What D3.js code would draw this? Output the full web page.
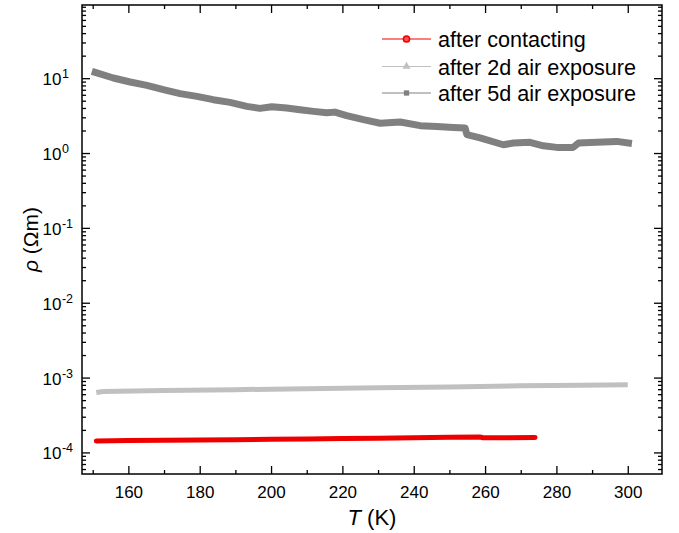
<!DOCTYPE html>
<html>
<head>
<meta charset="utf-8">
<script src="https://cdnjs.cloudflare.com/ajax/libs/d3/7.8.5/d3.min.js"></script>
<style>
    body { margin: 0; background: #fff; }
    text { font-family: Arial, "Liberation Sans", sans-serif; fill: #000; }
</style>
</head>
<body>
<div id="chart"></div>
<script>
// values
var seriesNames = ["after contacting", "after 2d air exposure", "after 5d air exposure"];

var tContact = [151, 160, 170, 180, 190, 200, 210, 220, 230, 240, 250, 258.5, 259.5, 265, 274];
var rhoContact = [1.42e-4, 1.44e-4, 1.45e-4, 1.47e-4, 1.48e-4, 1.50e-4, 1.51e-4, 1.53e-4, 1.55e-4, 1.57e-4, 1.59e-4, 1.61e-4, 1.57e-4, 1.57e-4, 1.58e-4];

var t2d = [151, 153, 170, 190, 210, 230, 250, 270, 287, 300];
var rho2d = [6.3e-4, 6.5e-4, 6.7e-4, 6.9e-4, 7.1e-4, 7.3e-4, 7.5e-4, 7.75e-4, 7.9e-4, 8.0e-4];

var t5d = [150.7, 155.8, 160.5, 165.2, 169.8, 174.5, 179.2, 183.8, 188.5, 193.2, 196.9, 200.2, 204.4, 208.1,
    211.9, 215.6, 217.9, 221.2, 225.9, 230.6, 236.2, 241.8, 246.5, 251.1, 254.4, 254.9, 258.6, 265.1,
    267.9, 272.6, 276.3, 280.1, 284.7, 286.2, 291.3, 296.9, 300.2];
var rho5d = [11.96, 10.06, 8.90, 8.01, 7.02, 6.21, 5.71, 5.16, 4.75, 4.20, 3.95, 4.15, 4.00, 3.79,
    3.60, 3.45, 3.52, 3.16, 2.79, 2.50, 2.60, 2.32, 2.27, 2.20, 2.16, 1.76, 1.59, 1.29,
    1.36, 1.39, 1.25, 1.19, 1.19, 1.36, 1.39, 1.43, 1.36];

var xMajor = [160, 180, 200, 220, 240, 260, 280, 300];
var xMinor = [150, 170, 190, 210, 230, 250, 270, 290];
var yMajor = [1e-4, 1e-3, 1e-2, 1e-1, 1e0, 1e1];

var colors = ["#ee0000", "#c0c0c0", "#808080"];

var width = 679, height = 533;
var pLeft = 82, pRight = 662, pTop = 5, pBottom = 474;

var x = d3.scaleLinear().domain([147, 309.6]).range([pLeft, pRight]);
var y = d3.scaleLog().domain([5.15e-5, 95]).range([pBottom, pTop]);

// minor log ticks 2..9 in each decade
var yMinor = [];
for (var k = -5; k <= 1; k++) {
    for (var m = 2; m <= 9; m++) {
        var v = m * Math.pow(10, k);
        if (v > y.domain()[0] && v < y.domain()[1]) yMinor.push(v);
    }
}

var svg = d3.select("#chart")
    .append("svg")
    .attr("width", width)
    .attr("height", height);

svg.append("defs").append("clipPath")
    .attr("id", "clip")
    .append("rect")
    .attr("x", pLeft).attr("y", pTop)
    .attr("width", pRight - pLeft).attr("height", pBottom - pTop);

function styleAxis(g) {
    g.select(".domain").remove();
    g.selectAll("line").attr("stroke", "#000").attr("stroke-width", 1.3);
    g.selectAll("text").style("font-size", "17px").attr("font-family", null);
}

// bottom
svg.append("g")
    .attr("transform", "translate(0," + pBottom + ")")
    .call(d3.axisBottom(x).tickValues(xMajor).tickSize(-8).tickPadding(12).tickFormat(d3.format("d")))
    .call(styleAxis);
svg.append("g")
    .attr("transform", "translate(0," + pBottom + ")")
    .call(d3.axisBottom(x).tickValues(xMinor).tickSize(-4).tickFormat(""))
    .call(styleAxis);
// top
svg.append("g")
    .attr("transform", "translate(0," + pTop + ")")
    .call(d3.axisTop(x).tickValues(xMajor).tickSize(-8).tickFormat(""))
    .call(styleAxis);
svg.append("g")
    .attr("transform", "translate(0," + pTop + ")")
    .call(d3.axisTop(x).tickValues(xMinor).tickSize(-4).tickFormat(""))
    .call(styleAxis);
// left
svg.append("g")
    .attr("transform", "translate(" + pLeft + ",0)")
    .call(d3.axisLeft(y).tickValues(yMajor).tickSize(-8).tickFormat(""))
    .call(styleAxis);
svg.append("g")
    .attr("transform", "translate(" + pLeft + ",0)")
    .call(d3.axisLeft(y).tickValues(yMinor).tickSize(-4).tickFormat(""))
    .call(styleAxis);
// right
svg.append("g")
    .attr("transform", "translate(" + pRight + ",0)")
    .call(d3.axisRight(y).tickValues(yMajor).tickSize(-8).tickFormat(""))
    .call(styleAxis);
svg.append("g")
    .attr("transform", "translate(" + pRight + ",0)")
    .call(d3.axisRight(y).tickValues(yMinor).tickSize(-4).tickFormat(""))
    .call(styleAxis);

// y tick labels 10^n
var ylab = svg.append("g").selectAll("text")
    .data(yMajor)
    .enter()
    .append("text")
    .attr("x", 42.5)
    .attr("y", function (d) { return y(d) + 7; })
    .style("font-size", "17px");
ylab.append("tspan").text("10");
ylab.append("tspan")
    .attr("dy", -7)
    .attr("dx", 0.5)
    .style("font-size", "12.5px")
    .text(function (d) { return Math.round(Math.log10(d)); });

// frame
svg.append("rect")
    .attr("x", pLeft).attr("y", pTop)
    .attr("width", pRight - pLeft).attr("height", pBottom - pTop)
    .attr("fill", "none")
    .attr("stroke", "#000")
    .attr("stroke-width", 1.5);

// data
var line = d3.line()
    .x(function (d) { return x(d[0]); })
    .y(function (d) { return y(d[1]); });

var plot = svg.append("g").attr("clip-path", "url(#clip)");

var allSeries = [
    { t: t5d, r: rho5d, w: 7, c: colors[2], cap: "square" },
    { t: t2d, r: rho2d, w: 5, c: colors[1], cap: "butt" },
    { t: tContact, r: rhoContact, w: 5, c: colors[0], cap: "round" }
];

allSeries.forEach(function (s) {
    var pts = s.t.map(function (t, i) { return [t, s.r[i]]; });
    plot.append("path")
        .datum(pts)
        .attr("d", line)
        .attr("fill", "none")
        .attr("stroke", s.c)
        .attr("stroke-width", s.w)
        .attr("stroke-linejoin", "round")
        .attr("stroke-linecap", s.cap);
});

// axis titles
var xt = svg.append("text")
    .attr("x", (pLeft + pRight) / 2)
    .attr("y", 525)
    .attr("text-anchor", "middle")
    .style("font-size", "22px");
xt.append("tspan").style("font-style", "italic").text("T");
xt.append("tspan").text(" (K)");

var yt = svg.append("text")
    .attr("transform", "translate(38," + ((pTop + pBottom) / 2) + ") rotate(-90)")
    .attr("text-anchor", "middle")
    .style("font-size", "21px");
yt.append("tspan").style("font-style", "italic").text("ρ");
yt.append("tspan").text(" (Ωm)");

// legend
var legend = svg.append("g");
var legendY = [39, 66.5, 93];
seriesNames.forEach(function (name, i) {
    var ly = legendY[i];
    legend.append("line")
        .attr("x1", 382).attr("x2", 431)
        .attr("y1", ly).attr("y2", ly)
        .attr("stroke", colors[i])
        .attr("stroke-width", 1);
    var sym = [d3.symbolCircle, d3.symbolTriangle, d3.symbolSquare][i];
    legend.append("path")
        .attr("transform", "translate(406.5," + ly + ")")
        .attr("d", d3.symbol().type(sym).size(i == 0 ? 30 : 28))
        .attr("fill", i == 0 ? "#ff5050" : colors[i])
        .attr("stroke", i == 0 ? colors[0] : "none")
        .attr("stroke-width", 1.5);
    legend.append("text")
        .attr("x", 438)
        .attr("y", ly + 8)
        .style("font-size", "21.6px")
        .text(name);
});
</script>
</body>
</html>
